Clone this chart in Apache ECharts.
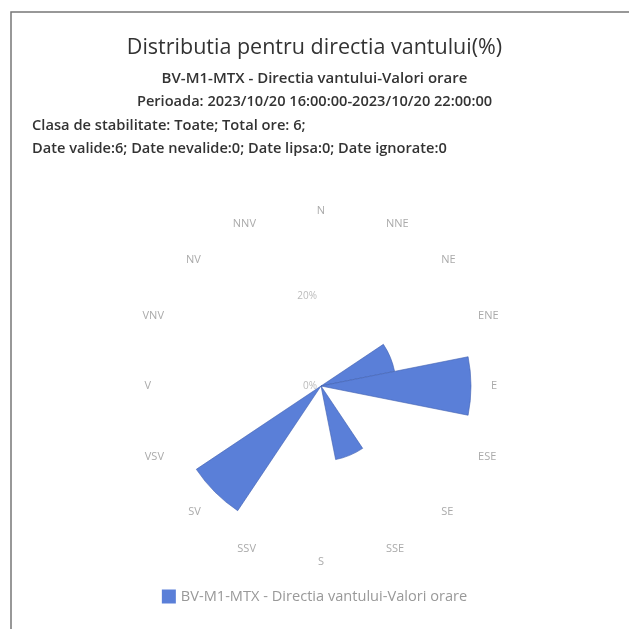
<!DOCTYPE html>
<html lang="ro">
<head>
    <meta charset="utf-8">
    <title>Distributia pentru directia vantului</title>
    <script src="https://cdn.jsdelivr.net/npm/echarts@6/dist/echarts.min.js"></script>
    <style>
        html, body { margin: 0; padding: 0; background: #fff; }
        #main { width: 629px; height: 629px; }
    </style>
</head>
<body>
<div id="main"></div>
<script>
// directii (16 sectoare) si frecventa in %
var directions = ['N', 'NNE', 'NE', 'ENE', 'E', 'ESE', 'SE', 'SSE', 'S', 'SSV', 'SV', 'VSV', 'V', 'VNV', 'NV', 'NNV'];
var frequencies = [0, 0, 0, 16.67, 33.33, 0, 0, 16.67, 0, 0, 33.33, 0, 0, 0, 0, 0];
var radiusTicks = [0, 20];

var seriesName = 'BV-M1-MTX - Directia vantului-Valori orare';
var infoLines = [
    'BV-M1-MTX - Directia vantului-Valori orare',
    'Perioada: 2023/10/20 16:00:00-2023/10/20 22:00:00'
];
var leftLines = [
    'Clasa de stabilitate: Toate; Total ore: 6;',
    'Date valide:6; Date nevalide:0; Date lipsa:0; Date ignorate:0'
];

var myChart = echarts.init(document.getElementById('main'));
var font = '"Open Sans", "Noto Sans", sans-serif';

function line(text, left, top, size, weight) {
    return {
        text: text, left: left, top: top,
        textStyle: { fontSize: size, fontWeight: weight, color: '#333', fontFamily: font }
    };
}

myChart.setOption({
    animation: false,
    textStyle: { fontFamily: font },
    title: [
        line('Distributia pentru directia vantului(%)', 'center', 32, 21.5, 500),
        line(infoLines[0], 'center', 66, 15, 600),
        line(infoLines[1], 'center', 89, 14.6, 600),
        line(leftLines[0], 27, 113, 14.7, 600),
        line(leftLines[1], 27, 136, 14.6, 600)
    ],
    graphic: [{
        type: 'rect',
        shape: { x: 11, y: 12, width: 700, height: 700 },
        style: { fill: 'none', stroke: '#777', lineWidth: 1.5 },
        silent: true
    }],
    legend: {
        bottom: 20, left: 'center',
        itemWidth: 14, itemHeight: 14, icon: 'rect', itemGap: 8,
        itemStyle: { borderWidth: 0 },
        textStyle: { fontSize: 14.6, color: '#999', fontFamily: font },
        data: [seriesName]
    },
    polar: { center: [321, 386], radius: 162 },
    angleAxis: {
        type: 'category',
        data: directions,
        startAngle: 90,
        boundaryGap: false,
        axisLine: { show: false },
        axisTick: { show: false },
        splitLine: { show: false },
        axisLabel: { color: '#aaa', fontSize: 11, margin: 8 }
    },
    radiusAxis: {
        min: 0, max: 36, interval: 20,
        axisLine: { show: false },
        axisTick: { show: false },
        splitLine: { show: false },
        axisLabel: {
            color: '#bbb', fontSize: 10, margin: 4,
            padding: [0, 0, 12, 0],
            formatter: function (v) { return radiusTicks.indexOf(v) >= 0 ? v + '%' : ''; }
        }
    },
    series: [{
        name: seriesName,
        type: 'bar',
        coordinateSystem: 'polar',
        barCategoryGap: '0%',
        data: frequencies,
        itemStyle: { color: '#5a7fd8', borderColor: '#3f5fb0', borderWidth: 0.6 }
    }]
});
</script>
</body>
</html>
